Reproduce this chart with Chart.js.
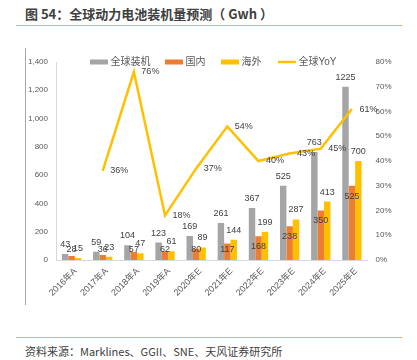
<!DOCTYPE html>
<html>
<head>
<meta charset="utf-8">
<script src="https://cdn.jsdelivr.net/npm/chart.js@4.4.0/dist/chart.umd.min.js"></script>
<style>
html, body { margin: 0; padding: 0; background: #fff; }
body { width: 417px; height: 360px; position: relative; overflow: hidden; font-family: "Noto Sans CJK SC", "Liberation Sans", sans-serif; }
#title { position: absolute; left: 25px; top: 4px; font-size: 13px; font-weight: bold; color: #404040; white-space: nowrap; }
.rule { position: absolute; left: 16px; width: 386px; height: 0; border-top: 1.5px solid #F5A864; }
#frame { position: absolute; left: 25px; top: 48px; height: 257px; width: 0; border-left: 1px solid #A6A6A6; }
#source { position: absolute; left: 25px; top: 343px; font-size: 11px; color: #404040; white-space: nowrap; }
#wrap { position: absolute; left: 0; top: 40px; width: 417px; height: 265px; }
</style>
</head>
<body>
<div id="title">图 54：全球动力电池装机量预测（ Gwh ）</div>
<div class="rule" style="top:25px"></div>
<div id="frame"></div>
<div id="wrap"><canvas id="myChart"></canvas></div>
<div class="rule" style="top:337px"></div>
<div id="source">资料来源：Marklines、GGII、SNE、天风证券研究所</div>
<script>
const categories = ['2016年A', '2017年A', '2018年A', '2019年A', '2020年E', '2021年E', '2022年E', '2023年E', '2024年E', '2025年E'];
const globalInstalled = [43, 59, 104, 123, 169, 261, 367, 525, 763, 1225];
const domestic = [28, 36, 57, 62, 80, 117, 168, 238, 350, 525];
const overseas = [15, 23, 47, 61, 89, 144, 199, 287, 413, 700];
const globalYoY = [null, 36, 76, 18, 37, 54, 40, 43, 45, 61];

const GRAY = '#A5A5A5', ORANGE = '#ED7D31', YELLOW = '#FFC000';
const FONT = '"Liberation Sans", "Noto Sans CJK SC", sans-serif';

// 柱和折线的数据标签
const labelPlugin = {
  id: 'valueLabels',
  afterDatasetsDraw(chart) {
    const ctx = chart.ctx;
    const base = chart.scales.y.getPixelForValue(0);
    ctx.save();
    ctx.font = '9px ' + FONT;
    ctx.fillStyle = '#404040';
    ctx.textAlign = 'center';
    ctx.textBaseline = 'middle';
    chart.data.datasets.forEach((ds, i) => {
      const meta = chart.getDatasetMeta(i);
      meta.data.forEach((el, j) => {
        const v = ds.data[j];
        if (v == null) return;
        if (ds.type === 'line') {
          ctx.fillText(v + '%', el.x + 16.5, el.y);
        } else if (ds.label === '国内') {
          ctx.fillText(v, el.x, Math.min(el.y + 10.5, base - 10));
        } else {
          ctx.fillText(v, el.x, el.y - 9.5);
        }
      });
    });
    ctx.restore();
  }
};

// 图例画在绘图区内
const legendPlugin = {
  id: 'innerLegend',
  afterDraw(chart) {
    const ctx = chart.ctx;
    const y = chart.chartArea.top;
    const items = [
      { text: '全球装机', color: GRAY, x: 90, line: false },
      { text: '国内', color: ORANGE, x: 165, line: false },
      { text: '海外', color: YELLOW, x: 221, line: false },
      { text: '全球YoY', color: YELLOW, x: 278, line: true }
    ];
    ctx.save();
    ctx.font = '10px ' + FONT;
    ctx.textBaseline = 'middle';
    ctx.textAlign = 'left';
    items.forEach(it => {
      if (it.line) {
        ctx.strokeStyle = it.color;
        ctx.lineWidth = 2.5;
        ctx.beginPath();
        ctx.moveTo(it.x, y);
        ctx.lineTo(it.x + 18, y);
        ctx.stroke();
      } else {
        ctx.fillStyle = it.color;
        ctx.fillRect(it.x, y - 2.5, 18, 5);
      }
      ctx.fillStyle = '#595959';
      ctx.fillText(it.text, it.x + 20.5, y + 0.5);
    });
    ctx.restore();
  }
};

const ctx = document.getElementById('myChart');
new Chart(ctx, {
  type: 'bar',
  data: {
    labels: categories,
    datasets: [
      {
        type: 'line',
        label: '全球YoY',
        data: globalYoY,
        yAxisID: 'y1',
        borderColor: YELLOW,
        backgroundColor: YELLOW,
        borderWidth: 2.5,
        pointRadius: 0,
        tension: 0,
        spanGaps: false,
        order: 0
      },
      { label: '全球装机', data: globalInstalled, backgroundColor: GRAY, yAxisID: 'y', order: 1 },
      { label: '国内', data: domestic, backgroundColor: ORANGE, yAxisID: 'y', order: 1 },
      { label: '海外', data: overseas, backgroundColor: YELLOW, yAxisID: 'y', order: 1 }
    ]
  },
  options: {
    responsive: true,
    maintainAspectRatio: false,
    animation: false,
    barPercentage: 1,
    categoryPercentage: 0.62,
    layout: { padding: { top: 22, left: 0, right: 0, bottom: 0 } },
    plugins: {
      legend: { display: false },
      tooltip: { enabled: false }
    },
    scales: {
      x: {
        grid: { display: false, drawTicks: false },
        border: { display: true, color: '#D9D9D9' },
        ticks: {
          color: '#595959',
          font: { size: 9, family: FONT },
          minRotation: 45,
          maxRotation: 45,
          padding: 6,
          labelOffset: 4
        },
        afterFit: s => { s.height = 45; }
      },
      y: {
        position: 'left',
        min: 0,
        max: 1400,
        grid: { display: false, drawTicks: false },
        border: { display: true, color: '#D9D9D9' },
        ticks: {
          stepSize: 200,
          color: '#595959',
          font: { size: 8, family: FONT },
          padding: 8,
          callback: v => v.toLocaleString('en-US')
        },
        afterFit: s => { s.width = 56; }
      },
      y1: {
        position: 'right',
        min: 0,
        max: 80,
        grid: { display: false, drawTicks: false },
        border: { display: false },
        ticks: {
          stepSize: 10,
          color: '#595959',
          font: { size: 8, family: FONT },
          padding: 8,
          callback: v => v + '%'
        },
        afterFit: s => { s.width = 49.5; }
      }
    }
  },
  plugins: [labelPlugin, legendPlugin]
});
</script>
</body>
</html>
